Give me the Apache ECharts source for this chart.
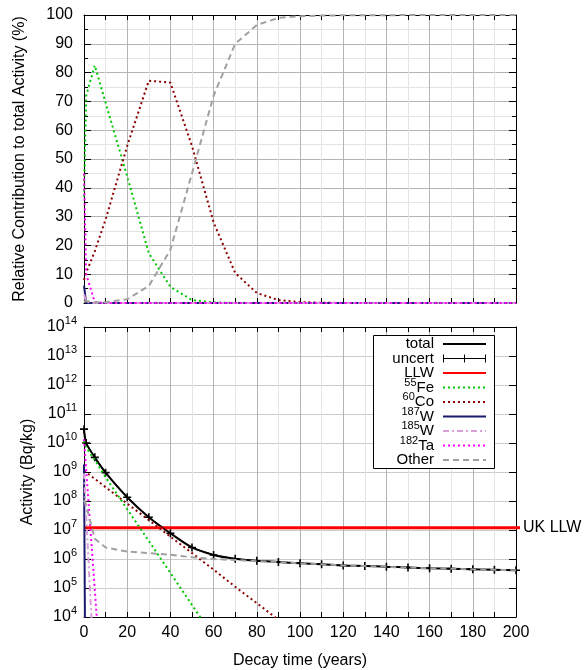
<!DOCTYPE html>
<html lang="en">
<head>
<meta charset="UTF-8">
<title>Activity decay</title>
<script src="https://cdn.jsdelivr.net/npm/echarts@6/dist/echarts.min.js"></script>
<style>
    html, body { margin: 0; padding: 0; background: #fff; }
    #chart { width: 587px; height: 670px; }
</style>
</head>
<body>
<div id="chart"></div>
<script>
// decay times (years)
var years = [0, 1, 5, 10, 20, 30, 40, 50, 60, 70, 80, 90, 100, 110, 120, 130, 140, 150, 160, 170, 180, 190, 200];

// relative contribution (%) - top panel
var pctFe    = [37, 72, 82.5, 69.5, 44, 17.3, 5.6, 1.0, 0.2, 0, 0, 0, 0, 0, 0, 0, 0, 0, 0, 0, 0, 0, 0];
var pctCo    = [8, 10.5, 18, 29, 54.5, 77.2, 76.5, 54.5, 28, 10.4, 3.5, 1.0, 0.3, 0.1, 0, 0, 0, 0, 0, 0, 0, 0, 0];
var pctW187  = [6, 0, 0, 0, 0, 0, 0, 0, 0, 0, 0, 0, 0, 0, 0, 0, 0, 0, 0, 0, 0, 0, 0];
var pctW185  = [3, 0.4, 0, 0, 0, 0, 0, 0, 0, 0, 0, 0, 0, 0, 0, 0, 0, 0, 0, 0, 0, 0, 0];
var pctTa    = [45, 10, 0.3, 0, 0, 0, 0, 0, 0, 0, 0, 0, 0, 0, 0, 0, 0, 0, 0, 0, 0, 0, 0];
var pctOther = [0.4, 0.7, 0.2, 0.3, 1.3, 5.9, 18.5, 45, 72, 90, 96.5, 99, 99.6, 99.8, 99.9, 99.9, 99.9, 100, 100, 100, 100, 100, 100];

// activity (Bq/kg) - bottom panel
var actTotal = [3.0e10, 1.0e10, 3.2e9, 9.5e8, 1.35e8, 2.75e7, 7.7e6, 2.5e6, 1.38e6, 1.02e6, 8.7e5, 7.9e5, 7.1e5, 6.6e5, 6.0e5, 5.75e5, 5.4e5, 5.1e5, 4.8e5, 4.65e5, 4.4e5, 4.25e5, 4.1e5];
var actFe    = [1.2e10, 7.0e9, 2.6e9, 6.6e8, 5.2e7, 4.2e6, 3.3e5, 2.6e4, 2.1e3];
var actCo    = [1.1e9, 9.8e8, 5.8e8, 3.0e8, 8.1e7, 2.2e7, 5.9e6, 1.6e6, 4.3e5, 1.1e5, 3.0e4, 8.1e3];
var actW187  = [1.8e9, 1e-3];
var actW185  = [9e8, 3.2e7, 50];
var actTa    = [1.35e10, 1.2e9, 8.5e4, 0.5];
var actOther = [1.1e8, 7e7, 5e6, 2.5e6, 1.8e6, 1.6e6, 1.4e6, 1.15e6, 1.0e6, 9.2e5, 8.4e5, 7.8e5, 7.05e5, 6.57e5, 5.98e5, 5.73e5, 5.38e5, 5.09e5, 4.79e5, 4.64e5, 4.39e5, 4.24e5, 4.09e5];

var llwLevel = 1.2e7;
var llwYears = [0, 200];

var FONT = "'Liberation Sans', Arial, Helvetica, sans-serif";

var styles = {
    total: {color: '#000000', type: 'solid', width: 2},
    uncert: {color: '#000000', type: 'solid', width: 1},
    llw: {color: '#ff0000', type: 'solid', width: 3},
    fe: {color: '#00c800', type: [2, 3], width: 2},
    co: {color: '#8b0000', type: [2, 3], width: 2},
    w187: {color: '#1a1a6e', type: 'solid', width: 2},
    w185: {color: '#d8a0d8', type: [6, 3, 2, 3], width: 2},
    ta: {color: '#ff00ff', type: [2, 3], width: 2},
    other: {color: '#a0a0a0', type: [6, 4], width: 2}
};

function pairs(arr) {
    return arr.map(function (v, i) { return [years[i], v]; });
}

function lineSeries(name, key, arr, xi, yi, z) {
    var s = styles[key];
    return {
        name: name, type: 'line', xAxisIndex: xi, yAxisIndex: yi,
        data: pairs(arr), showSymbol: false, symbol: 'none', z: z,
        lineStyle: {color: s.color, type: s.type, width: s.width},
        itemStyle: {color: s.color}
    };
}

var majorGrid = {show: true, lineStyle: {color: '#b4b4b4', width: 1}};
var minorGrid = {show: true, lineStyle: {color: '#e4e4e4', width: 1}};
var frame = {show: true, onZero: false, lineStyle: {color: '#000', width: 1}};

function xAxisFor(gi, pos, withLabels) {
    var main = pos === 'bottom';
    var ax = {
        gridIndex: gi, type: 'value', position: pos, min: 0, max: 200, interval: 20,
        axisLine: frame,
        axisTick: {show: true, inside: true, length: 5, lineStyle: {color: '#000'}},
        minorTick: {show: true, splitNumber: 2, length: 5, lineStyle: {color: '#000'}},
        splitLine: main ? majorGrid : {show: false},
        minorSplitLine: main ? minorGrid : {show: false},
        axisLabel: {show: withLabels, color: '#000', fontSize: 16, fontFamily: FONT, margin: 8}
    };
    if (withLabels) {
        ax.name = 'Decay time (years)';
        ax.nameLocation = 'middle';
        ax.nameGap = 36;
        ax.nameTextStyle = {color: '#000', fontSize: 16, fontFamily: FONT};
    }
    return ax;
}

function pctAxis(pos) {
    var main = pos === 'left';
    var ax = {
        gridIndex: 0, type: 'value', position: pos, min: 0, max: 100, interval: 10,
        axisLine: frame,
        axisTick: {show: true, inside: true, length: 7, lineStyle: {color: '#000'}},
        minorTick: {show: true, splitNumber: 2, length: 4, lineStyle: {color: '#000'}},
        splitLine: main ? majorGrid : {show: false},
        minorSplitLine: main ? minorGrid : {show: false},
        axisLabel: {show: main, color: '#000', fontSize: 16, fontFamily: FONT, margin: 11}
    };
    if (main) {
        ax.name = 'Relative Contribution to total Activity (%)';
        ax.nameLocation = 'middle';
        ax.nameGap = 56;
        ax.nameTextStyle = {color: '#000', fontSize: 16, fontFamily: FONT};
    }
    return ax;
}

function actAxis(pos) {
    var main = pos === 'left';
    var ax = {
        gridIndex: 1, type: 'log', logBase: 10, position: pos, min: 1e4, max: 1e14,
        splitNumber: 10, interval: 1,
        axisLine: frame,
        axisTick: {show: true, inside: true, length: 7, lineStyle: {color: '#000'}},
        minorTick: {show: false},
        splitLine: main ? {show: true, lineStyle: {color: '#cccccc', width: 1}} : {show: false},
        axisLabel: {
            show: main, color: '#000', margin: 7, hideOverlap: false,
            formatter: function (v) {
                return '{b|10}{s|' + Math.round(Math.log10(v)) + '}';
            },
            rich: {
                b: {fontSize: 16, fontFamily: FONT, color: '#000'},
                s: {fontSize: 11, fontFamily: FONT, color: '#000', lineHeight: 11, padding: [0, 0, 12, 0]}
            }
        }
    };
    if (main) {
        ax.name = 'Activity (Bq/kg)';
        ax.nameLocation = 'middle';
        ax.nameGap = 47;
        ax.nameTextStyle = {color: '#000', fontSize: 16, fontFamily: FONT};
    }
    return ax;
}

// hand-drawn key box (gnuplot style, text right, sample left)
var keyRows = [
    {text: 'total', key: 'total'},
    {text: 'uncert', key: 'uncert'},
    {text: 'LLW', key: 'llw'},
    {text: '{s|55}{b|Fe}', key: 'fe'},
    {text: '{s|60}{b|Co}', key: 'co'},
    {text: '{s|187}{b|W}', key: 'w187'},
    {text: '{s|185}{b|W}', key: 'w185'},
    {text: '{s|182}{b|Ta}', key: 'ta'},
    {text: 'Other', key: 'other'}
];

function buildKey() {
    var els = [{
        type: 'rect', z: 100,
        shape: {x: 373.5, y: 335.5, width: 121, height: 133},
        style: {fill: '#fff', stroke: '#000', lineWidth: 1}
    }];
    keyRows.forEach(function (r, i) {
        var y = 344 + i * 14.5;
        var s = styles[r.key];
        els.push({
            type: 'text', z: 101,
            style: {
                x: 434, y: y, text: r.text, align: 'right', verticalAlign: 'middle',
                fontSize: 15, fontFamily: FONT, fill: '#000',
                rich: {
                    b: {fontSize: 15, fontFamily: FONT, fill: '#000'},
                    s: {fontSize: 11, fontFamily: FONT, fill: '#000', lineHeight: 11, padding: [0, 0, 10, 0]}
                }
            }
        });
        var dash = Array.isArray(s.type) ? s.type : null;
        els.push({
            type: 'line', z: 101,
            shape: {x1: 443, y1: y, x2: 486, y2: y},
            style: {stroke: s.color, lineWidth: Math.min(s.width, 2), lineDash: dash}
        });
        if (r.key === 'uncert') {
            els.push({type: 'line', z: 101, shape: {x1: 443.5, y1: y - 4, x2: 443.5, y2: y + 4}, style: {stroke: '#000', lineWidth: 1}});
            els.push({type: 'line', z: 101, shape: {x1: 485.5, y1: y - 4, x2: 485.5, y2: y + 4}, style: {stroke: '#000', lineWidth: 1}});
            els.push({type: 'line', z: 101, shape: {x1: 464.5, y1: y - 4, x2: 464.5, y2: y + 4}, style: {stroke: '#000', lineWidth: 1}});
        }
    });
    return els;
}

var chart = echarts.init(document.getElementById('chart'));

var llwSeries = {
    name: 'LLW', type: 'line', xAxisIndex: 2, yAxisIndex: 2, z: 3,
    data: llwYears.map(function (t) { return [t, llwLevel]; }),
    showSymbol: false, symbol: 'none',
    lineStyle: {color: styles.llw.color, width: styles.llw.width},
    endLabel: {
        show: true, distance: 0,
        formatter: '{bar|}{t|UK LLW}',
        rich: {
            bar: {width: 4, height: 3, backgroundColor: '#ff0000'},
            t: {fontSize: 16, fontFamily: FONT, color: '#000', padding: [0, 0, 0, 3]}
        }
    }
};

var uncertSeries = {
    name: 'uncert', type: 'line', xAxisIndex: 2, yAxisIndex: 2, z: 4,
    data: pairs(actTotal), showSymbol: true,
    symbol: 'path://M4,0h2v4h4v2h-4v4h-2v-4h-4v-2h4z', symbolSize: 8,
    itemStyle: {color: '#000'},
    lineStyle: {color: '#000', width: 1}
};

var option = {
    animation: false,
    backgroundColor: '#fff',
    textStyle: {fontFamily: FONT},
    grid: [
        {left: 84, top: 15, width: 432, height: 288, outerBoundsMode: 'none'},
        {left: 84, top: 327, width: 432, height: 290, outerBoundsMode: 'none'}
    ],
    xAxis: [
        xAxisFor(0, 'bottom', false),
        xAxisFor(0, 'top', false),
        xAxisFor(1, 'bottom', true),
        xAxisFor(1, 'top', false)
    ],
    yAxis: [
        pctAxis('left'),
        pctAxis('right'),
        actAxis('left'),
        actAxis('right')
    ],
    series: [
        lineSeries('55Fe', 'fe', pctFe, 0, 0, 3),
        lineSeries('60Co', 'co', pctCo, 0, 0, 3),
        lineSeries('187W', 'w187', pctW187, 0, 0, 3),
        lineSeries('185W', 'w185', pctW185, 0, 0, 3),
        lineSeries('182Ta', 'ta', pctTa, 0, 0, 3),
        lineSeries('Other', 'other', pctOther, 0, 0, 4),

        lineSeries('total', 'total', actTotal, 2, 2, 2),
        uncertSeries,
        llwSeries,
        lineSeries('55Fe', 'fe', actFe, 2, 2, 5),
        lineSeries('60Co', 'co', actCo, 2, 2, 5),
        lineSeries('187W', 'w187', actW187, 2, 2, 5),
        lineSeries('185W', 'w185', actW185, 2, 2, 5),
        lineSeries('182Ta', 'ta', actTa, 2, 2, 5),
        lineSeries('Other', 'other', actOther, 2, 2, 6)
    ],
    graphic: buildKey()
};
// smooth the total curve like the reference
option.series[6].smooth = 0.3;

chart.setOption(option);
</script>
</body>
</html>
